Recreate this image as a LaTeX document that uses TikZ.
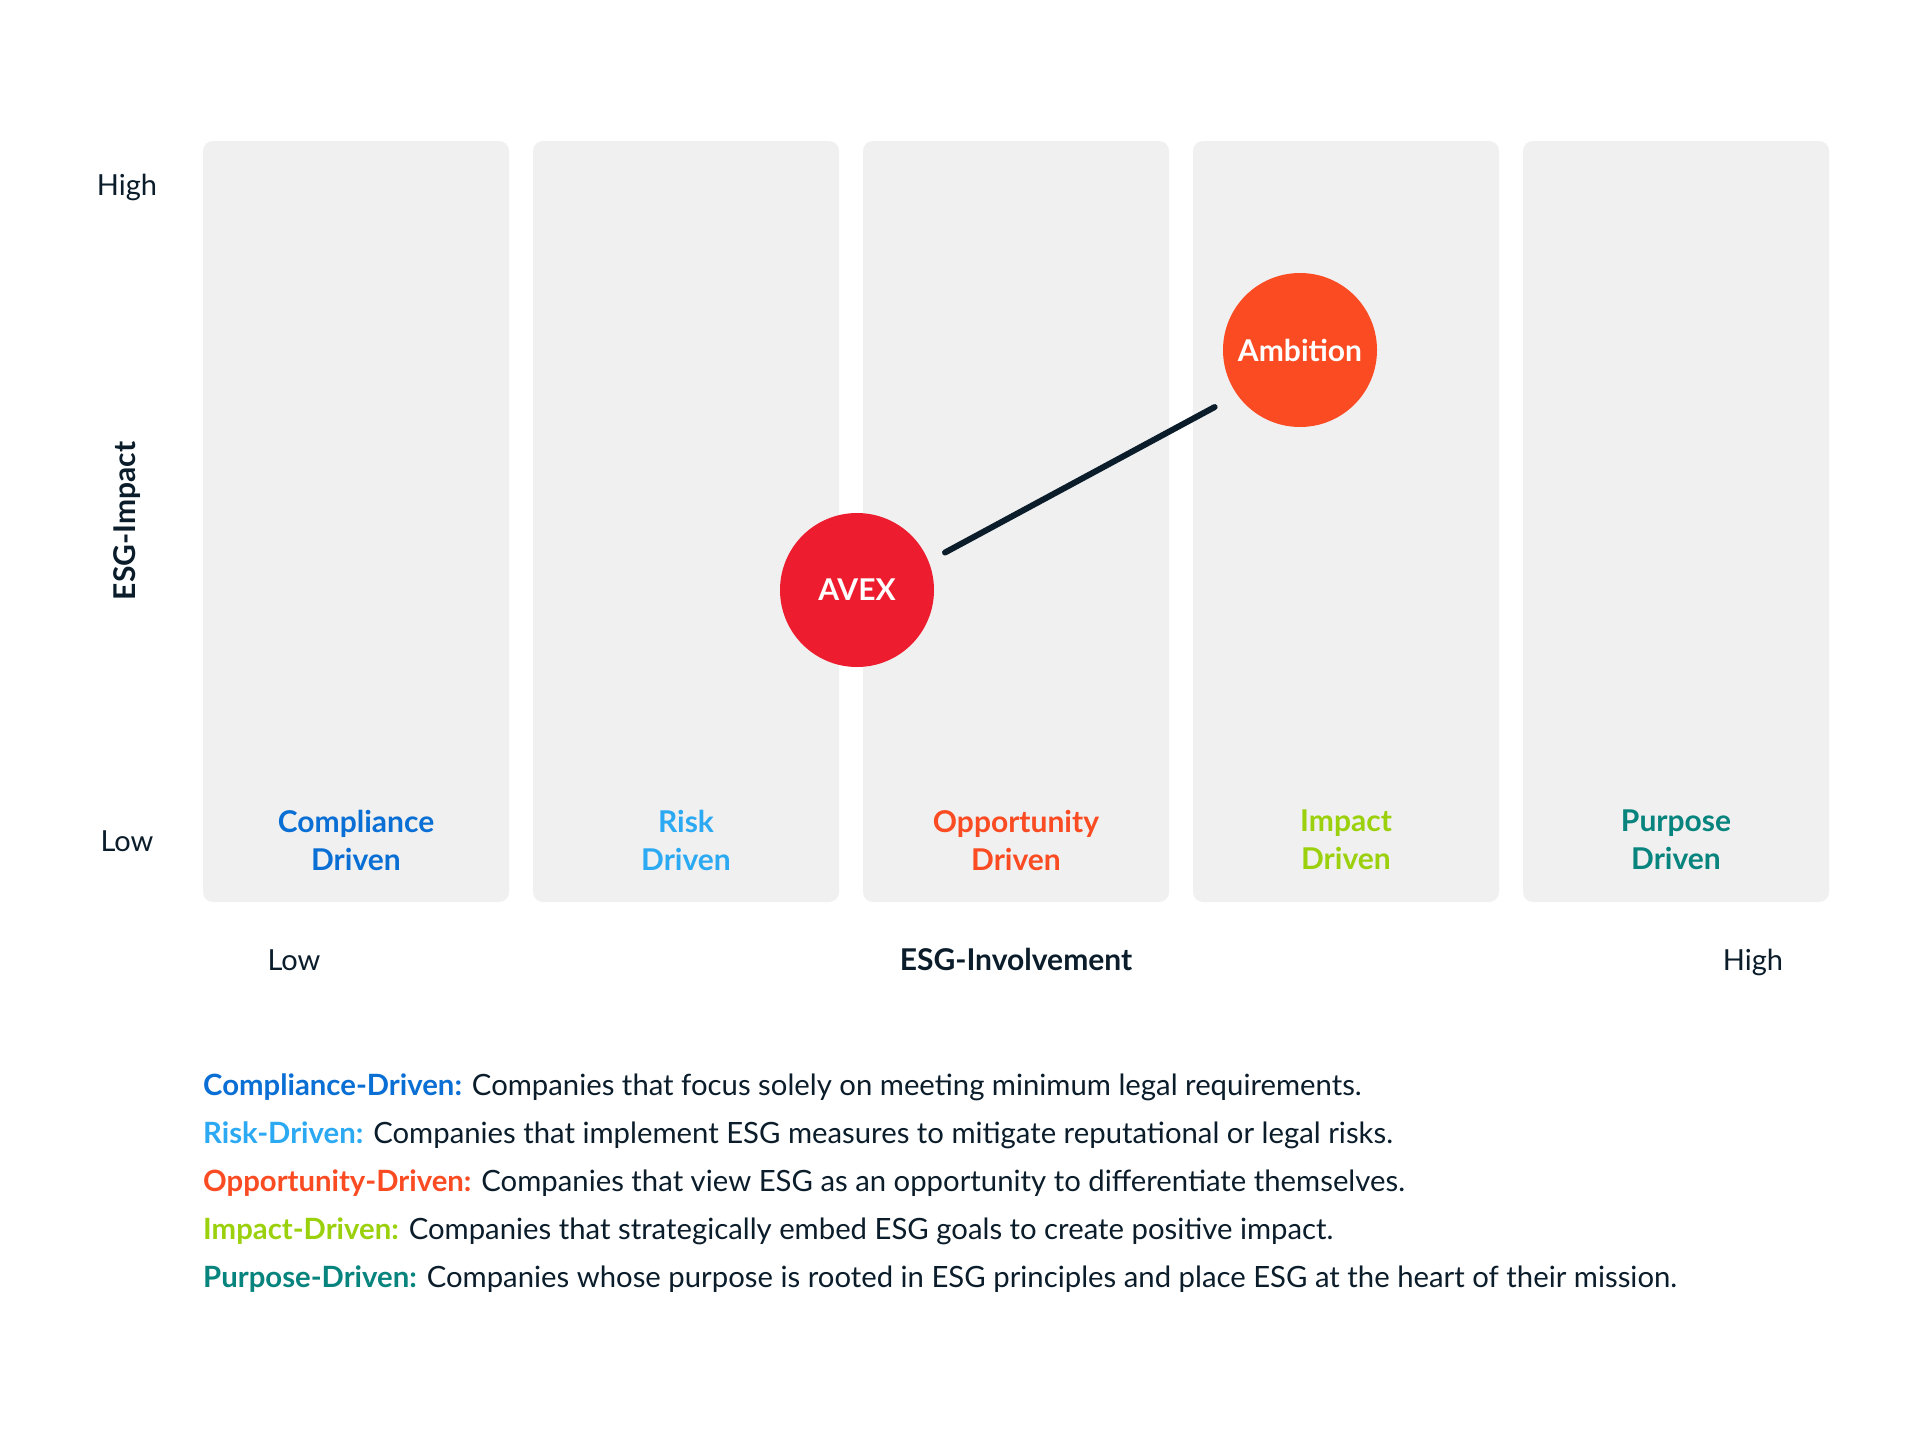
\documentclass[tikz,border=0pt]{standalone}
\usepackage{fontspec}
\setmainfont{Lato}
\usetikzlibrary{positioning}

\definecolor{panelgray}{HTML}{F0F0F0}
\definecolor{inkdark}{HTML}{0B1D2B}
\definecolor{compblue}{HTML}{0A6FD4}
\definecolor{riskblue}{HTML}{2BA9F2}
\definecolor{opporange}{HTML}{FA4B22}
\definecolor{impgreen}{HTML}{9BD10C}
\definecolor{purpteal}{HTML}{07847D}
\definecolor{avexred}{HTML}{ED1C2F}

\newcommand{\lgd}[2]{{\color{#1}\bfseries #2}}

\tikzset{
  panel/.style={fill=panelgray, rounded corners=10pt, minimum width=306pt, minimum height=761pt, inner sep=0pt},
  tag/.style={font=\fontsize{30}{38}\selectfont\bfseries, align=center, inner sep=0pt},
  axislbl/.style={font=\fontsize{29}{34}\selectfont, text=inkdark, inner sep=0pt, text height=21pt, text depth=6pt},
  bubble/.style={circle, minimum size=154pt, inner sep=0pt, text=white, font=\fontsize{30}{34}\selectfont\bfseries},
  legend/.style={anchor=west, font=\fontsize{29.3}{34}\selectfont, text=inkdark, inner sep=0pt}
}

\begin{document}
\begin{tikzpicture}[x=1pt,y=-1pt]
\useasboundingbox[fill=white] (0,0) rectangle (1920,1456);
% five columns
\node[panel] (p1) at (356,521.5) {};
\node[panel] (p2) at (686,521.5) {};
\node[panel] (p3) at (1016,521.5) {};
\node[panel] (p4) at (1346,521.5) {};
\node[panel] (p5) at (1676,521.5) {};
\node[tag, text=compblue] (t1) at (356,840) {Compliance\\Driven};
\node[tag, text=riskblue] (t2) at (686,840) {Risk\\Driven};
\node[tag, text=opporange] (t3) at (1016,840) {Opportunity\\Driven};
\node[tag, text=impgreen] (t4) at (1346,840) {Impact\\Driven};
\node[tag, text=purpteal] (t5) at (1676,840) {Purpose\\Driven};
% axes
\node[axislbl] (yhigh) at (127,188) {High};
\node[axislbl] (ylow) at (127,844) {Low};
\node[axislbl, font=\fontsize{30}{34}\selectfont\bfseries, rotate=90] (ytitle) at (128,521) {ESG-Impact};
\node[axislbl] (xlow) at (294,963) {Low};
\node[axislbl, font=\fontsize{30}{34}\selectfont\bfseries] (xtitle) at (1016,963) {ESG-Involvement};
\node[axislbl] (xhigh) at (1753,963) {High};
% companies
\node[bubble, fill=avexred] (avex) at (857,590) {AVEX};
\node[bubble, fill=opporange] (ambition) at (1300,350) {Ambition};
\draw[inkdark, line width=6pt, line cap=round, shorten <=100pt, shorten >=97pt] ([yshift=-10pt]avex.center) -- ([yshift=-11pt]ambition.center);
% legend
\node[legend] (l1) at (203,1087) {\lgd{compblue}{Compliance-Driven:} Companies that focus solely on meeting minimum legal requirements.};
\node[legend] (l2) at (203,1135) {\lgd{riskblue}{Risk-Driven:} Companies that implement ESG measures to mitigate reputational or legal risks.};
\node[legend] (l3) at (203,1183) {\lgd{opporange}{Opportunity-Driven:} Companies that view ESG as an opportunity to differentiate themselves.};
\node[legend] (l4) at (203,1231) {\lgd{impgreen}{Impact-Driven:} Companies that strategically embed ESG goals to create positive impact.};
\node[legend] (l5) at (203,1279) {\lgd{purpteal}{Purpose-Driven:} Companies whose purpose is rooted in ESG principles and place ESG at the heart of their mission.};
\end{tikzpicture}
\end{document}
